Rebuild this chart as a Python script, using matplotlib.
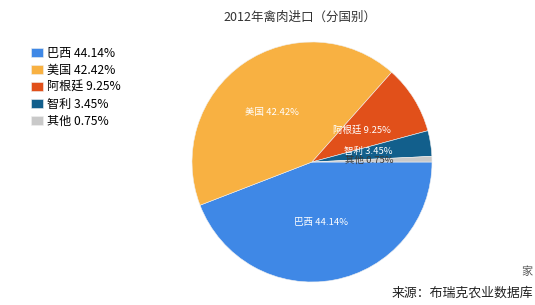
import matplotlib
matplotlib.use("Agg")
import matplotlib.pyplot as plt
import numpy as np

plt.rcParams['font.family'] = ['Noto Sans CJK SC', 'DejaVu Sans']

categories = ["巴西", "美国", "阿根廷", "智利", "其他"]
shares = [44.14, 42.42, 9.25, 3.45, 0.75]
colors = ["#3f88e6", "#f8b142", "#e1501a", "#125f8c", "#c9c9c9"]
title = "2012年禽肉进口（分国别）"
source = "来源：布瑞克农业数据库"

W, H = 535, 305
fig = plt.figure(figsize=(W / 100, H / 100), dpi=100)
ax = fig.add_axes([0, 0, 1, 1])

cx, cy, R = 312, 162, 120
wedges, _ = ax.pie(shares, colors=colors, startangle=0, counterclock=True,
                   center=(cx, cy), radius=R, frame=True,
                   wedgeprops=dict(linewidth=0.4, edgecolor='#f0f0f0'))
ax.set_xlim(0, W)
ax.set_ylim(H, 0)
ax.set_aspect('equal')
ax.axis('off')

# in-slice labels: (radius fraction, angle offset in degrees from wedge middle)
label_pos = [(0.51, 2), (0.53, -4), (0.49, -1), (0.48, -2), (0.48, -0.6)]
label_colors = ["white", "white", "white", "white", "#3a3a3a"]
for w, (rf, dth), name, v, c in zip(wedges, label_pos, categories, shares, label_colors):
    mid = np.deg2rad((w.theta1 + w.theta2) / 2 + dth)
    x = cx + rf * R * np.cos(mid)
    y = cy + rf * R * np.sin(mid)
    ax.text(x, y, f"{name} {v:.2f}%", color=c, fontsize=6.8, ha='center', va='center')

ax.text(300, 17, title, fontsize=9, ha='center', va='center', color='#333333')

handles = wedges
labels = [f"{n} {v:.2f}%" for n, v in zip(categories, shares)]
fig.legend(handles, labels, loc='upper left', bbox_to_anchor=(31 / W, 1 - 47 / H),
           frameon=False, fontsize=8.7, handlelength=1.0, handleheight=0.8,
           handletextpad=0.35, labelspacing=0.33, borderpad=0, borderaxespad=0)

ax.text(533, 293, source, fontsize=9.3, ha='right', va='center', color='#222222')
ax.text(527, 272, "家", fontsize=8, ha='center', va='center', color='#555555')

fig.savefig("out.png", dpi=100, facecolor='white')
